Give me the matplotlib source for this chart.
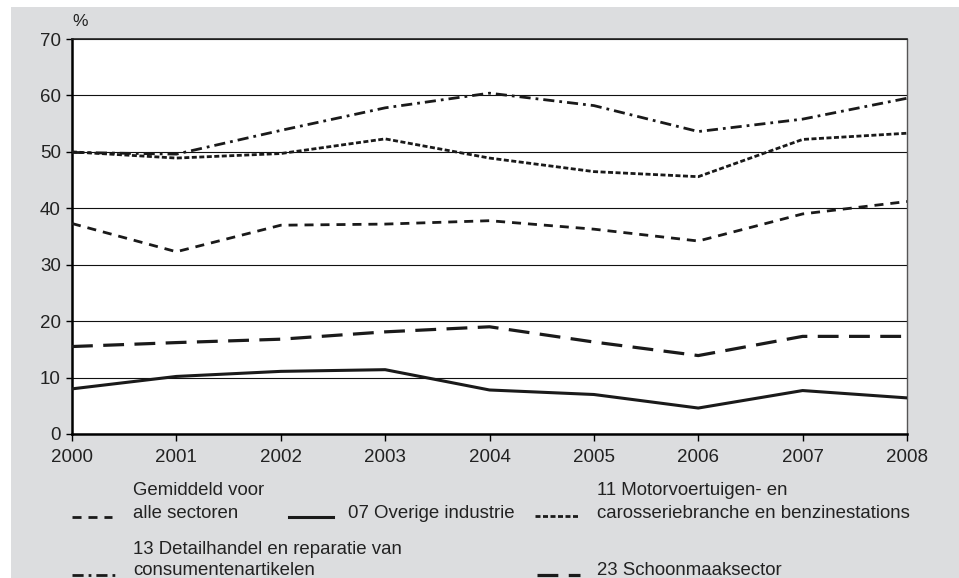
import matplotlib.pyplot as plt
import matplotlib.patches as patches
from matplotlib.lines import Line2D
import numpy as np

plt.rcParams['font.family'] = ['Liberation Sans', 'DejaVu Sans']
plt.rcParams['lines.scale_dashes'] = False

# Data
years = [2000, 2001, 2002, 2003, 2004, 2005, 2006, 2007, 2008]
gemiddeld = [37.3, 32.3, 37.0, 37.2, 37.8, 36.3, 34.2, 39.0, 41.2]
overige = [8.0, 10.2, 11.1, 11.4, 7.8, 7.0, 4.6, 7.7, 6.4]
motor = [50.0, 48.9, 49.7, 52.3, 48.9, 46.5, 45.6, 52.2, 53.3]
detail = [49.9, 49.6, 53.8, 57.8, 60.4, 58.2, 53.6, 55.8, 59.5]
schoon = [15.5, 16.2, 16.8, 18.1, 19.0, 16.3, 13.9, 17.3, 17.3]

W, H = 959, 578
fig = plt.figure(figsize=(W / 100, H / 100), dpi=100)
fig.patch.set_facecolor('white')
bg = '#dcdddf'
fig.add_artist(patches.Rectangle((11 / W, 0), 1 - 11 / W, 1 - 7 / H,
                                 transform=fig.transFigure, facecolor=bg,
                                 edgecolor='none', zorder=-10))

ax = fig.add_axes([72 / W, 1 - 434 / H, (907 - 72) / W, (434 - 39) / H])
ax.set_facecolor('white')

lc = '#1a1a1a'
st_gem = dict(color=lc, lw=2.0, dashes=(6.5, 5))
st_ove = dict(color=lc, lw=2.2, linestyle='-')
st_mot = dict(color=lc, lw=2.0, dashes=(3.6, 1.8))
st_det = dict(color=lc, lw=2.0, dashes=(8, 3.6, 2, 3.6))
st_sch = dict(color=lc, lw=2.3, dashes=(15, 7.5))

ax.plot(years, gemiddeld, **st_gem, zorder=3)
ax.plot(years, overige, **st_ove, zorder=3)
ax.plot(years, motor, **st_mot, zorder=3)
ax.plot(years, detail, **st_det, zorder=3)
ax.plot(years, schoon, **st_sch, zorder=3)

ax.set_xlim(2000, 2008)
ax.set_ylim(0, 70)
ax.set_xticks(years)
ax.set_yticks(range(0, 80, 10))
ax.yaxis.grid(True, color='#111111', lw=0.8)
ax.set_axisbelow(True)
ax.tick_params(axis='x', direction='out', length=5, width=1, pad=6,
               labelsize=13.5, labelcolor='#222222')
ax.tick_params(axis='y', direction='out', length=4, width=1, pad=4,
               labelsize=13.5, labelcolor='#222222')
for s in ['left', 'bottom']:
    ax.spines[s].set_linewidth(1.8)
    ax.spines[s].set_color('black')
ax.spines['top'].set_linewidth(1.2)
ax.spines['top'].set_color('#222222')
ax.spines['right'].set_linewidth(1.0)
ax.spines['right'].set_color('#555555')

fig.text(72 / W, 1 - 22 / H, '%', fontsize=12.5, va='center', ha='left',
         color='#222222')

# Legend drawn by hand (pixel layout)
def px(x, y):
    return x / W, 1 - y / H

def handle(x0, x1, y, style):
    (a, b), (c, _) = px(x0, y), px(x1, y)
    fig.add_artist(Line2D([a, c], [b, b], transform=fig.transFigure, **style))

def label(x, y, s):
    fx, fy = px(x, y)
    fig.text(fx, fy, s, fontsize=13.4, ha='left', va='baseline', color='#222222')

handle(72, 112, 517, st_gem)
label(133, 495, 'Gemiddeld voor')
label(133, 518, 'alle sectoren')

handle(289, 333, 517, st_ove)
label(348, 518, '07 Overige industrie')

handle(535, 580, 516, st_mot)
label(597, 495, '11 Motorvoertuigen- en')
label(597, 518, 'carosseriebranche en benzinestations')

handle(72, 115, 575, st_det)
label(133, 554, '13 Detailhandel en reparatie van')
label(133, 575, 'consumentenartikelen')

handle(537, 580, 575, st_sch)
label(597, 575, '23 Schoonmaaksector')

fig.savefig('out.png', dpi=100, facecolor=fig.get_facecolor())
